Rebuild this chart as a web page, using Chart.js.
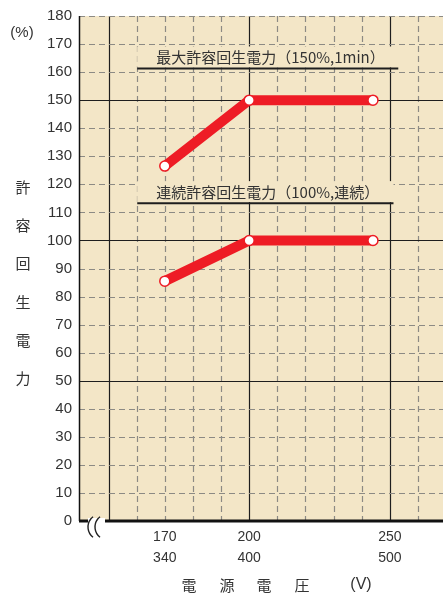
<!DOCTYPE html>
<html><head><meta charset="utf-8">
<script src="https://cdn.jsdelivr.net/npm/chart.js@4.4.1/dist/chart.umd.min.js"></script>
<style>html,body{margin:0;padding:0;background:#fff;}canvas{display:block;}</style>
</head><body>
<canvas id="c" width="443" height="597"></canvas>
<script>
// ---- data ----
const voltages = [170, 200, 244];
const maxRegen = [126.5, 150, 150];   // 最大許容回生電力 (150%,1min)
const contRegen = [85.5, 100, 100];   // 連続許容回生電力 (100%,連続)
const xTickValues = [170, 200, 250];
const xTickTop = ['170', '200', '250'];
const xTickBottom = ['340', '400', '500'];
const yTitleChars = ['許', '容', '回', '生', '電', '力'];
const xTitleChars = ['電', '源', '電', '圧', '(V)'];
const labelMax = '最大許容回生電力（150%,1min）';
const labelCont = '連続許容回生電力（100%,連続）';

const BG = '#f3e6c7';
const RED = '#ee1c25';
const CJK = '"Noto Sans CJK JP", "Noto Sans", sans-serif';
const SANS = '"Liberation Sans", Arial, sans-serif';

const customPlugin = {
  id: 'custom',
  beforeDatasetsDraw(chart) {
    const { ctx, chartArea: a, scales: { x, y } } = chart;
    ctx.save();
    ctx.fillStyle = BG;
    ctx.fillRect(a.left, a.top, a.right - a.left, a.bottom - a.top);
    ctx.lineWidth = 1.2;
    // vertical grid
    for (let v = 150; v <= x.max; v += 10) {
      const px = Math.round(x.getPixelForValue(v)) + 0.5;
      const solid = v % 50 === 0;
      ctx.strokeStyle = solid ? '#1e1e1e' : '#8c8a84';
      ctx.setLineDash(solid ? [] : [6, 4]);
      ctx.beginPath(); ctx.moveTo(px, a.top); ctx.lineTo(px, a.bottom); ctx.stroke();
    }
    // horizontal grid
    for (let v = 10; v <= 180; v += 10) {
      const py = Math.round(y.getPixelForValue(v)) + 0.5;
      const solid = v % 50 === 0;
      ctx.strokeStyle = solid ? '#1e1e1e' : '#8c8a84';
      ctx.setLineDash(solid ? [] : [6, 4]);
      ctx.beginPath(); ctx.moveTo(a.left, py); ctx.lineTo(a.right, py); ctx.stroke();
    }
    ctx.setLineDash([]);
    // labels with underline
    const drawLabel = (text, yVal, xEnd) => {
      const x0 = x.getPixelForValue(160.2), x1 = x.getPixelForValue(xEnd);
      const uy = y.getPixelForValue(yVal);
      ctx.fillStyle = BG;
      ctx.fillRect(x0, uy - 22, x1 - x0, 21);
      ctx.strokeStyle = '#1e1e1e';
      ctx.lineWidth = 2;
      ctx.beginPath(); ctx.moveTo(x0, uy); ctx.lineTo(x1, uy); ctx.stroke();
      ctx.fillStyle = '#333';
      ctx.font = '15px ' + CJK;
      ctx.textAlign = 'left';
      ctx.textBaseline = 'middle';
      ctx.fillText(text, x0 + 19, uy - 11);
    };
    drawLabel(labelMax, 161.3, 253);
    drawLabel(labelCont, 113.3, 251.3);
    // axes
    ctx.strokeStyle = '#111';
    ctx.lineWidth = 1.5;
    ctx.beginPath(); ctx.moveTo(a.left + 0.5, a.top); ctx.lineTo(a.left + 0.5, a.bottom); ctx.stroke();
    ctx.lineWidth = 3;
    ctx.beginPath(); ctx.moveTo(a.left, a.bottom); ctx.lineTo(a.right, a.bottom); ctx.stroke();
    ctx.restore();
  },
  afterDraw(chart) {
    const { ctx, chartArea: a } = chart;
    ctx.save();
    // axis break symbol
    ctx.fillStyle = '#fff';
    ctx.fillRect(88, a.bottom - 3, 17, 7);
    ctx.strokeStyle = '#222';
    ctx.lineWidth = 1.4;
    [101, 108].forEach(cx => {
      ctx.beginPath();
      ctx.arc(cx, a.bottom + 6, 13, Math.PI * 0.71, Math.PI * 1.29);
      ctx.stroke();
    });
    // y title
    ctx.fillStyle = '#333';
    ctx.textAlign = 'center';
    ctx.textBaseline = 'middle';
    ctx.font = '15px ' + CJK;
    yTitleChars.forEach((ch, i) => ctx.fillText(ch, 23, 187 + i * 38.3));
    ctx.font = '15px ' + SANS;
    ctx.fillText('(%)', 22, 33);
    // x title
    ctx.font = '15px ' + CJK;
    const xs = [189, 227, 264, 302];
    for (let i = 0; i < 4; i++) ctx.fillText(xTitleChars[i], xs[i], 585);
    ctx.font = '16px ' + SANS;
    ctx.fillText(xTitleChars[4], 361, 585);
    ctx.restore();
  }
};

new Chart(document.getElementById('c'), {
  type: 'line',
  data: {
    datasets: [
      { data: voltages.map((v, i) => ({ x: v, y: maxRegen[i] })) },
      { data: voltages.map((v, i) => ({ x: v, y: contRegen[i] })) }
    ]
  },
  options: {
    responsive: false,
    animation: false,
    devicePixelRatio: 1,
    layout: { autoPadding: false, padding: { top: 16, right: 0, left: 0, bottom: 0 } },
    elements: {
      line: { borderColor: RED, borderWidth: 10, borderCapStyle: 'round', borderJoinStyle: 'round', tension: 0 },
      point: { radius: 5, backgroundColor: '#fff', borderColor: RED, borderWidth: 1.5 }
    },
    plugins: { legend: { display: false }, tooltip: { enabled: false } },
    scales: {
      x: {
        type: 'linear',
        min: 139.5, max: 268.9,
        grid: { display: false, drawTicks: false },
        border: { display: false },
        afterBuildTicks: s => { s.ticks = xTickValues.map(v => ({ value: v })); },
        afterFit: s => { s.height = 76; s.paddingLeft = 0; s.paddingRight = 0; },
        ticks: {
          padding: 6,
          color: '#333',
          font: { family: SANS, size: 14, lineHeight: 1.5 },
          maxRotation: 0, autoSkip: false,
          callback: v => { const i = xTickValues.indexOf(v); return i < 0 ? '' : [xTickTop[i], xTickBottom[i]]; }
        }
      },
      y: {
        min: 0, max: 180,
        grid: { display: false, drawTicks: false },
        border: { display: false },
        afterFit: s => { s.width = 79; s.paddingTop = 0; s.paddingBottom = 0; },
        ticks: {
          stepSize: 10, padding: 7, color: '#333',
          font: { family: SANS, size: 15 }
        }
      }
    }
  },
  plugins: [customPlugin]
});
</script>
</body></html>
